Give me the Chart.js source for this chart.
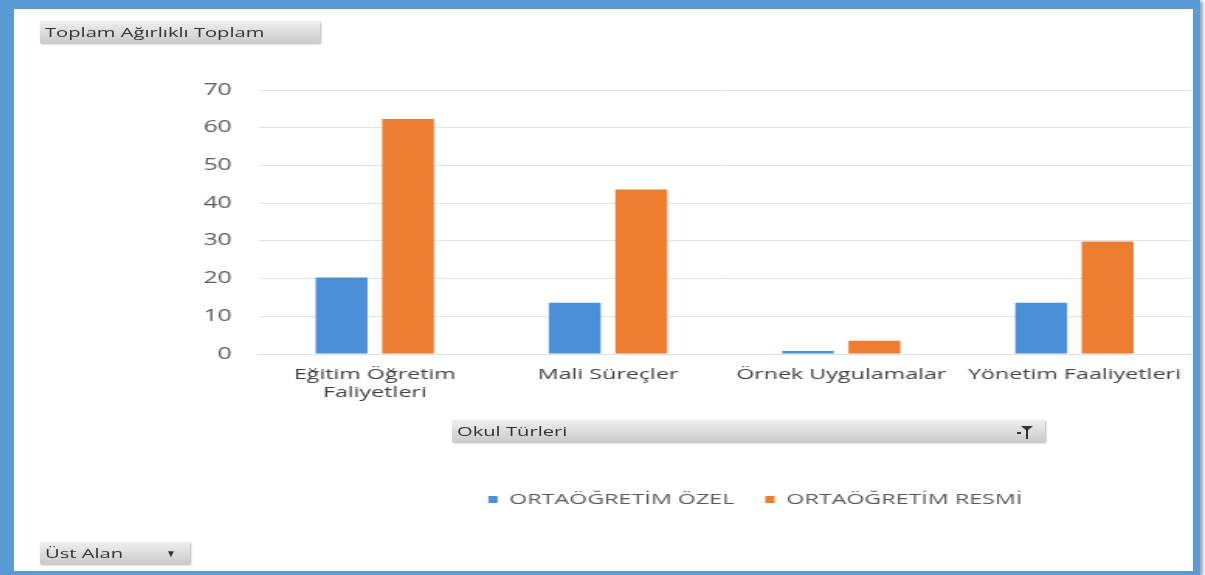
<!DOCTYPE html>
<html>
<head>
<meta charset="utf-8">
<script src="https://cdn.jsdelivr.net/npm/chart.js@4/dist/chart.umd.min.js"></script>
<style>
  html, body { margin: 0; padding: 0; background: #fff; }
  body { width: 1205px; height: 575px; position: relative; overflow: hidden; font-family: "Open Sans", sans-serif; }
  .frame {
    position: absolute; left: 0; top: 0; width: 1179px; height: 562px;
    border-style: solid; border-color: #5b9bd5;
    border-width: 9px 7px 4px 14px;
    box-shadow: 3px 1px 3px rgba(0,0,0,0.35);
  }
  .btn {
    position: absolute; font-size: 13px; color: #333; line-height: 22px; height: 22px;
    padding-left: 5px; box-sizing: border-box; white-space: nowrap;
    background: linear-gradient(#efefef, #cbcbcb);
    box-shadow: 1px 1px 2px rgba(0,0,0,0.3);
  }
  .btn .t { display: inline-block; transform: scaleX(1.55); transform-origin: left center; }
  .funnel { position: absolute; right: 12px; top: 6px; width: 0; height: 0;
    border-left: 6px solid transparent; border-right: 6px solid transparent; border-top: 5px solid #333; }
  .funnel::after { content: ''; position: absolute; left: -1px; top: -1px; width: 2px; height: 9px; background: #333; }
  .dash { position: absolute; right: 24px; top: 12px; width: 4px; height: 2px; background: #333; }
  /* the reference is a horizontally stretched screenshot, so the chart is drawn narrow and stretched */
  #wrap { position: absolute; left: 0; top: 0; width: 777px; height: 575px; transform: scaleX(1.5508); transform-origin: left top; }
</style>
</head>
<body>
<div class="frame"></div>
<div id="wrap"><canvas id="barChart"></canvas></div>
<div class="btn" style="left:40px; top:21px; width:280px;"><span class="t">Toplam Ağırlıklı Toplam</span></div>
<div class="btn" style="left:452px; top:420px; width:593px;"><span class="t">Okul Türleri</span><span class="dash"></span><span class="funnel"></span></div>
<div class="btn" style="left:40px; top:542px; width:150px;"><span class="t">Üst Alan</span><span style="position:absolute; right:14px; top:0; font-size:10px;">▼</span></div>
<script>
const categories = [['Eğitim Öğretim', 'Faliyetleri'], 'Mali Süreçler', 'Örnek Uygulamalar', 'Yönetim Faaliyetleri'];
const ozelValues = [20.3, 13.6, 0.8, 13.6];
const resmiValues = [62.3, 43.6, 3.5, 29.8];
const seriesNames = ['ORTAÖĞRETİM ÖZEL', 'ORTAÖĞRETİM RESMİ'];
const yTicks = [0, 10, 20, 30, 40, 50, 60, 70];

// legend in the reference sits right of centre
const shiftLegend = {
    id: 'shiftLegend',
    afterLayout(chart) {
        chart.legend.left += 53;
        chart.legend.right += 53;
    }
};

const ctx = document.getElementById('barChart').getContext('2d');

const chart = new Chart(ctx, {
    type: 'bar',
    data: {
        labels: categories,
        datasets: [{
            label: seriesNames[0],
            data: ozelValues,
            backgroundColor: '#4a90d9'
        }, {
            label: seriesNames[1],
            data: resmiValues,
            backgroundColor: '#ed7d31'
        }]
    },
    options: {
        responsive: true,
        maintainAspectRatio: false,
        animation: false,
        categoryPercentage: 0.57,
        barPercentage: 0.78,
        layout: {
            padding: { left: 100, right: 9, top: 90, bottom: 58 }
        },
        plugins: {
            legend: {
                position: 'bottom',
                labels: {
                    boxWidth: 6,
                    boxHeight: 7,
                    padding: 20,
                    color: '#595959',
                    font: { family: 'Open Sans', size: 15 }
                }
            },
            tooltip: { enabled: false }
        },
        scales: {
            y: {
                min: yTicks[0],
                max: yTicks[yTicks.length - 1],
                afterBuildTicks: function(scale) { scale.ticks = yTicks.map(v => ({ value: v })); },
                ticks: {
                    color: '#595959',
                    padding: 17,
                    font: { family: 'Open Sans', size: 16 }
                },
                grid: { color: '#e3e3e3', drawTicks: false },
                border: { display: false },
                afterFit: function(scale) { scale.width = 66.5; }
            },
            x: {
                ticks: {
                    color: '#404040',
                    padding: 3,
                    maxRotation: 0,
                    font: { family: 'Open Sans', size: 15, lineHeight: 1.25 }
                },
                grid: { display: false },
                border: { color: '#e3e3e3' },
                afterFit: function(scale) { scale.height = 118; }
            }
        }
    },
    plugins: [shiftLegend]
});
</script>
</body>
</html>
